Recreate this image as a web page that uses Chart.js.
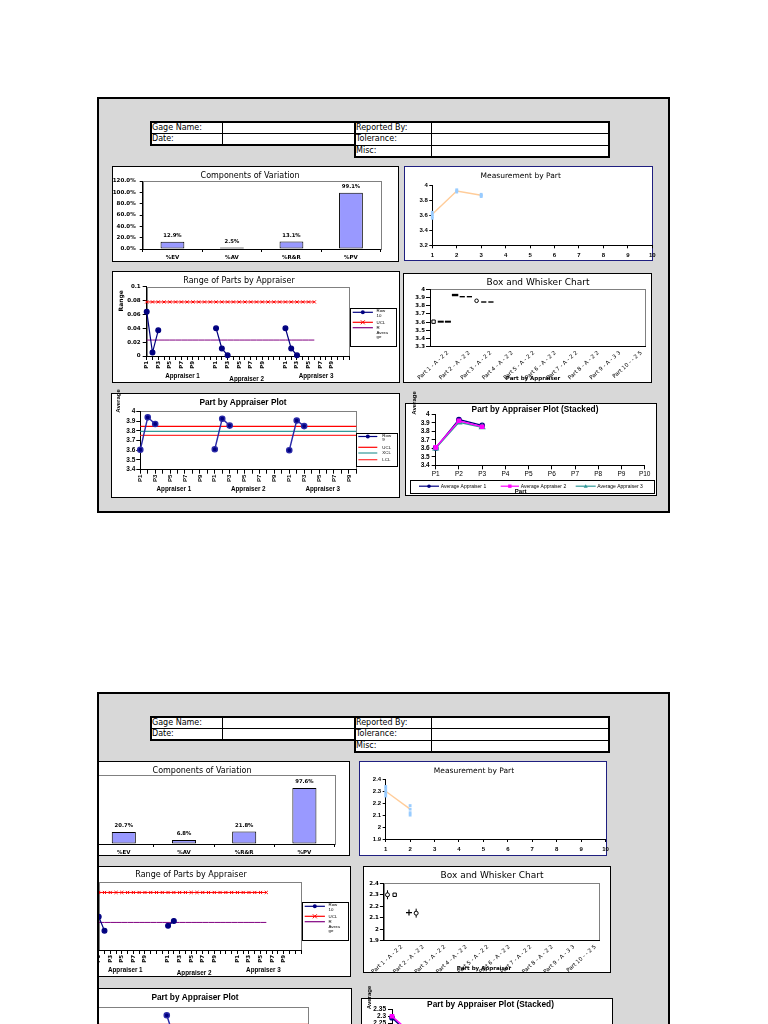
<!DOCTYPE html>
<html>
<head>
<meta charset="utf-8">
<title>Gage R&amp;R report</title>
<script src="https://cdn.jsdelivr.net/npm/chart.js@4.4.1/dist/chart.umd.min.js"></script>
<style>
  html, body { margin: 0; padding: 0; background: #fff; }
  body { width: 768px; height: 1024px; overflow: hidden; position: relative; font-family: "DejaVu Sans", sans-serif; }
  .sheet { position: absolute; background: #d8d8d8; overflow: hidden; }
  .edge { position: absolute; border: 2px solid #000; box-sizing: border-box; z-index: 5; }
  .box { position: absolute; background: #fff; border: 1px solid #000; box-sizing: border-box; }
  .cell { position: absolute; box-sizing: border-box; border: 1px solid #000; background: #fff; font-size: 8px; padding-left: 1px; white-space: nowrap; color: #000; }
  .outer { position: absolute; box-sizing: border-box; border: 2px solid #000; }
  canvas { position: absolute; }
</style>
</head>
<body>
<script>
const covCategories = ['%EV', '%AV', '%R&R', '%PV'];
const covTop = [12.9, 2.5, 13.1, 99.1];
const covBottom = [20.7, 6.8, 21.8, 97.6];

const measTopPart = [1, 1, 1, 1, 2, 2, 2, 3, 3, 3];
const measTopValue = [3.56, 3.585, 3.61, 3.64, 3.91, 3.925, 3.94, 3.85, 3.865, 3.88];
const measTopMean = [3.613, 3.924, 3.867];
const measBottomPart = [1, 1, 1, 1, 1, 2, 2, 2, 2];
const measBottomValue = [2.26, 2.28, 2.30, 2.32, 2.34, 2.10, 2.12, 2.15, 2.18];
const measBottomMean = [2.30, 2.15];

const parts = ['P1', 'P2', 'P3', 'P4', 'P5', 'P6', 'P7', 'P8', 'P9', 'P10'];
const appraisers = ['Appraiser 1', 'Appraiser 2', 'Appraiser 3'];

const rangeTop = [[0.064, 0.005, 0.037], [0.040, 0.011, 0.001], [0.040, 0.011, 0.001]];
const rangeTopLimits = [0.078, 0.023];      // UCL, R average
const rangeBottom = [[0.069, 0.040], [0.050, 0.060], []];
const rangeBottomLimits = [0.119, 0.057];

const avgTop = [[3.605, 3.938, 3.87], [3.61, 3.924, 3.853], [3.60, 3.905, 3.848]];
const avgTopLimits = [3.846, 3.794, 3.753]; // UCL, XCL, LCL
const avgBottom = [[2.29, 2.14], [2.30, 2.16], []];
const avgBottomLimits = [2.245, 2.225, 2.205];

const bwLabels = ['Part 1 - A - 2 2', 'Part 2 - A - 2 2', 'Part 3 - A - 2 2', 'Part 4 - A - 2 2', 'Part 5 - A - 2 2',
  'Part 6 - A - 2 2', 'Part 7 - A - 2 2', 'Part 8 - A - 2 2', 'Part 9 - A - 3 3', 'Part 10 - - 2 5'];
const bwTop = [[3.605, 3.605, 3.605], [3.93, 3.91, 3.91], [3.86, 3.845, 3.845]];
const bwBottom = [[2.30, 2.30], [2.145, 2.14]];

const NAVY = '#000080', RED = '#ff0000', PURPLE = '#800080', TEAL = '#339999', MAGENTA = '#ff00ff', GREY = '#808080';
const ARIAL = '"Liberation Sans", Arial, sans-serif';

Chart.defaults.font.family = '"DejaVu Sans", sans-serif';
Chart.defaults.color = '#000';
const TICK = { size: 5.5, weight: 'bold' };
const TICK_A = { family: ARIAL, size: 6.5, weight: 'bold' };
const fmt = v => String(Math.round(v * 1000) / 1000);
const pct = v => v.toFixed(1) + '%';

function drawMark(ctx, style, x, y, r, color) {
  ctx.save();
  ctx.fillStyle = color; ctx.strokeStyle = color; ctx.lineWidth = 1;
  ctx.beginPath();
  if (style === 'circle') { ctx.arc(x, y, r, 0, Math.PI * 2); ctx.fill(); }
  else if (style === 'rect') { ctx.fillRect(x - r, y - r, r * 2, r * 2); }
  else if (style === 'triangle') { ctx.moveTo(x, y - r); ctx.lineTo(x + r, y + r * 0.8); ctx.lineTo(x - r, y + r * 0.8); ctx.fill(); }
  else if (style === 'crossRot') { ctx.moveTo(x - r, y - r); ctx.lineTo(x + r, y + r); ctx.moveTo(x + r, y - r); ctx.lineTo(x - r, y + r); ctx.stroke(); }
  ctx.restore();
}

// grey frame round the plot area
const framePlugin = {
  id: 'frame',
  beforeDraw(chart, args, o) {
    if (!o.color) return;
    const a = chart.chartArea, ctx = chart.ctx;
    ctx.save();
    ctx.strokeStyle = o.color; ctx.lineWidth = 1;
    ctx.strokeRect(Math.round(a.left) + 0.5, Math.round(a.top) + 0.5, Math.round(a.right - a.left), Math.round(a.bottom - a.top));
    ctx.restore();
  }
};

const valuePlugin = {
  id: 'barValues',
  afterDatasetsDraw(chart, args, o) {
    if (!o.gap) return;
    const ctx = chart.ctx, vals = chart.data.datasets[0].data;
    ctx.save();
    ctx.font = 'bold 5.3px "DejaVu Sans"'; ctx.textAlign = 'center'; ctx.textBaseline = 'middle'; ctx.fillStyle = '#000';
    chart.getDatasetMeta(0).data.forEach((el, i) => ctx.fillText(pct(vals[i]), el.x, el.y - o.gap));
    ctx.restore();
  }
};

// second level of the category axis (Appraiser 1/2/3)
const groupPlugin = {
  id: 'groups',
  afterDraw(chart, args, o) {
    if (!o.labels) return;
    const ctx = chart.ctx, xs = chart.scales.x;
    ctx.save();
    ctx.font = 'bold 6.3px ' + ARIAL; ctx.textAlign = 'center'; ctx.textBaseline = 'middle'; ctx.fillStyle = '#000';
    o.labels.forEach((s, i) => ctx.fillText(s, xs.getPixelForValue(o.at[i]), o.y[i] - o.oy));
    ctx.restore();
  }
};

const legendPlugin = {
  id: 'boxLegend',
  afterDraw(chart, args, o) {
    if (!o.w) return;
    const ctx = chart.ctx, x = o.x - o.ox, y = o.y - o.oy;
    ctx.save();
    ctx.fillStyle = '#fff'; ctx.fillRect(x, y, o.w, o.h);
    ctx.strokeStyle = '#000'; ctx.lineWidth = 1;
    ctx.strokeRect(Math.round(x) + 0.5, Math.round(y) + 0.5, Math.round(o.w), Math.round(o.h));
    ctx.font = (o.size || 4.4) + 'px ' + ARIAL; ctx.textBaseline = 'middle'; ctx.textAlign = 'left';
    for (const it of o.items) {
      ctx.strokeStyle = it.color; ctx.lineWidth = 1.2;
      ctx.beginPath(); ctx.moveTo(x + it.x0, y + it.y); ctx.lineTo(x + it.x1, y + it.y); ctx.stroke();
      if (it.mark) drawMark(ctx, it.mark, x + (it.x0 + it.x1) / 2, y + it.y, it.r, it.color);
      ctx.fillStyle = '#000';
      it.lines.forEach((s, k) => ctx.fillText(s, x + it.tx, y + it.ty[k]));
    }
    ctx.restore();
  }
};

const textPlugin = {
  id: 'texts',
  afterDraw(chart, args, o) {
    if (!o.items) return;
    const ctx = chart.ctx;
    for (const t of o.items) {
      ctx.save();
      ctx.font = (t.bold ? 'bold ' : '') + t.size + 'px ' + (t.arial ? ARIAL : '"DejaVu Sans"');
      ctx.fillStyle = '#000'; ctx.textAlign = 'center'; ctx.textBaseline = 'middle';
      ctx.translate(t.x - o.ox, t.y - o.oy);
      if (t.rot) ctx.rotate(t.rot * Math.PI / 180);
      ctx.fillText(t.text, 0, 0);
      ctx.restore();
    }
  }
};

Chart.register(framePlugin, valuePlugin, groupPlugin, legendPlugin, textPlugin);

function makeSheet(x, y, w, h) {
  const el = document.createElement('div');
  el.className = 'sheet';
  Object.assign(el.style, { left: x + 'px', top: y + 'px', width: w + 'px', height: h + 'px' });
  document.body.appendChild(el);
  const edge = document.createElement('div');
  edge.className = 'edge';
  Object.assign(edge.style, { left: x + 'px', top: y + 'px', width: w + 'px', height: h + 'px' });
  document.body.appendChild(edge);
  return { el, x, y };
}

function place(sheet, cls, x, y, w, h) {
  const d = document.createElement('div');
  d.className = cls;
  Object.assign(d.style, { left: (x - sheet.x) + 'px', top: (y - sheet.y) + 'px', width: w + 'px', height: h + 'px' });
  sheet.el.appendChild(d);
  return d;
}

function headerTable(sheet, dy) {
  const r = [121.7, 132.7, 145, 157.3].map(v => v + dy);
  const cell = (x0, y0, x1, y1, text) => {
    const d = place(sheet, 'cell', x0, y0, x1 - x0 + 1, y1 - y0 + 1);
    d.style.lineHeight = (y1 - y0 - 2) + 'px';
    d.textContent = text;
  };
  cell(150, r[0], 222, r[1], 'Gage Name:'); cell(222, r[0], 355, r[1], '');
  cell(150, r[1], 222, r[2], 'Date:'); cell(222, r[1], 355, r[2], '');
  cell(354, r[0], 430.5, r[1], 'Reported By:'); cell(430.5, r[0], 608.5, r[1], '');
  cell(354, r[1], 430.5, r[2], 'Tolerance:'); cell(430.5, r[1], 608.5, r[2], '');
  cell(354, r[2], 430.5, r[3], 'Misc:'); cell(430.5, r[2], 608.5, r[3], '');
  place(sheet, 'outer', 149.5, r[0] - 0.5, 206, r[2] - r[0] + 1.5);
  place(sheet, 'outer', 353.5, r[0] - 0.5, 256, r[3] - r[0] + 1.5);
}

function box(sheet, b, color) {
  const d = place(sheet, 'box', b.x, b.y, b.w, b.h);
  if (color) d.style.borderColor = color;
}

function makeChart(sheet, c, p, type, data, scales, plugins) {
  const cx = Math.round(c.x), cy = Math.round(c.y), cw = Math.round(c.w), ch = Math.round(c.h);
  const cv = document.createElement('canvas');
  cv.width = cw; cv.height = ch;
  Object.assign(cv.style, { left: (cx - sheet.x) + 'px', top: (cy - sheet.y) + 'px', width: cw + 'px', height: ch + 'px' });
  sheet.el.appendChild(cv);
  const yW = p.l - cx, xH = cy + ch - p.b;
  scales.x.afterFit = s => { s.height = xH; s.paddingLeft = 0; s.paddingRight = 0; };
  scales.y.afterFit = s => { s.width = yW; s.paddingTop = 0; s.paddingBottom = 0; };
  for (const k of ['texts', 'groups', 'boxLegend']) if (plugins[k]) { plugins[k].ox = cx; plugins[k].oy = cy; }
  plugins.legend = { display: false };
  plugins.tooltip = { enabled: false };
  return new Chart(cv, {
    type, data,
    options: {
      responsive: false, animation: false, events: [],
      layout: { padding: { left: 0, top: p.t - cy, right: cx + cw - p.r, bottom: 0 } },
      scales, plugins
    }
  });
}

function yAxis(min, max, step, cb, tl, pad, font) {
  return {
    type: 'linear', min, max,
    ticks: { stepSize: step, callback: cb, font: font || TICK, padding: pad, autoSkip: false },
    grid: { drawOnChartArea: false, tickLength: tl, color: '#000' },
    border: { color: '#000' }
  };
}

// range chart: 12 rows per appraiser (P1..P10 and two empty rows); average chart: 10 rows per appraiser
const rangeCats = appraisers.flatMap(() => parts.concat(['', '']));
const avgCats = appraisers.flatMap(() => parts);
function groupXAxis(cats, per, font) {
  return {
    type: 'category', offset: false,
    ticks: { autoSkip: false, minRotation: 90, maxRotation: 90, font, padding: 1,
      callback: (v, i) => (i % per < 10 && i % 2 === 0) ? cats[i] : '' },
    grid: { drawOnChartArea: false, tickLength: 4, color: '#000' },
    border: { color: '#000' }
  };
}
function perAppraiser(rows, cats, per) {
  const out = cats.map(() => null);
  rows.forEach((vals, g) => vals.forEach((v, i) => { out[g * per + i] = v; }));
  return out;
}
function flatLine(v, n, cats) { return cats.map((_, i) => i < n ? v : null); }

function componentsChart(sheet, g, values) {
  box(sheet, g.box);
  makeChart(sheet, g.box, g.plot, 'bar',
    { labels: covCategories, datasets: [{ data: values, backgroundColor: '#9999ff', borderColor: '#000', borderWidth: 1, borderSkipped: false, barPercentage: 0.4, categoryPercentage: 1 }] },
    {
      x: { type: 'category', ticks: { font: TICK, padding: 2 }, grid: { drawOnChartArea: false, tickLength: 3, color: '#000' }, border: { color: '#000' } },
      y: yAxis(0, 120, 20, pct, 3, 4)
    },
    { frame: { color: GREY }, barValues: { gap: 6 }, texts: { items: [{ text: 'Components of Variation', x: g.title[0], y: g.title[1], size: 8 }] } });
}

function measureChart(sheet, g, xs, ys, means, yMin, yMax, step) {
  box(sheet, g.box, '#1f1f80');
  const font = { family: ARIAL, size: 6, weight: 'bold' };
  makeChart(sheet, g.canvas, g.plot, 'scatter',
    { datasets: [
      { data: xs.map((x, i) => ({ x, y: ys[i] })), pointStyle: 'rect', pointRadius: 2, backgroundColor: '#99ccff', borderColor: '#99ccff', borderWidth: 0, clip: false },
      { data: means.map((y, i) => ({ x: i + 1, y })), showLine: true, borderColor: '#ffcc99', borderWidth: 1.4, pointRadius: 0, clip: false }
    ] },
    {
      x: { type: 'linear', min: 1, max: 10, ticks: { stepSize: 1, font, padding: 3.5, callback: fmt }, grid: { drawOnChartArea: false, tickLength: 3, color: '#000' }, border: { color: '#000' } },
      y: yAxis(yMin, yMax, step, fmt, 3, 1.5, font)
    },
    { texts: { items: [{ text: 'Measurement by Part', x: g.title[0], y: g.title[1], size: 7.5 }] } });
}

function rangeLegend(x, y) {
  return { x, y, w: 46, h: 38.3, items: [
    { x0: 2.7, x1: 22.9, y: 4.6, color: NAVY, mark: 'circle', r: 2, tx: 26.5, lines: ['Row', '10'], ty: [3.3, 8] },
    { x0: 2.7, x1: 22.9, y: 14.6, color: RED, mark: 'crossRot', r: 2, tx: 26.5, lines: ['UCL'], ty: [14.6] },
    { x0: 2.7, x1: 22.9, y: 20, color: PURPLE, tx: 26.5, lines: ['R', 'Avera', 'ge'], ty: [20, 24.6, 29.3] }
  ] };
}

function rangeChart(sheet, g, rows, limits, yMax) {
  box(sheet, g.box);
  makeChart(sheet, g.box, g.plot, 'line',
    { labels: rangeCats, datasets: [
      { data: perAppraiser(rows, rangeCats, 12), borderColor: NAVY, backgroundColor: NAVY, borderWidth: 1.2, pointStyle: 'circle', pointRadius: 2.4, clip: false },
      { data: flatLine(limits[0], 30, rangeCats), borderColor: RED, backgroundColor: RED, borderWidth: 1, pointStyle: 'crossRot', pointRadius: 2.2, pointBorderWidth: 1, clip: false },
      { data: flatLine(limits[1], 30, rangeCats), borderColor: PURPLE, borderWidth: 1, pointRadius: 0 }
    ] },
    { x: groupXAxis(rangeCats, 12, TICK), y: yAxis(0, yMax, 0.02, fmt, 4, 2) },
    {
      frame: { color: GREY },
      groups: { labels: appraisers, at: g.groupAt, y: g.groupY },
      boxLegend: rangeLegend(g.legend[0], g.legend[1]),
      texts: { items: [
        { text: 'Range of Parts by Appraiser', x: g.title[0], y: g.title[1], size: 8 },
        { text: 'Range', x: g.yTitle[0], y: g.yTitle[1], size: 6, bold: true, rot: -90 }
      ] }
    });
}

function bwChart(sheet, g, values, yMin, yMax, look) {
  box(sheet, g.box);
  const slots = bwLabels.flatMap(l => ['', '', l]);
  const series = src => {
    const out = slots.map(() => null);
    src.forEach((vals, p) => vals.forEach((v, a) => { out[p * 3 + a] = v; }));
    return out;
  };
  const datasets = [{ data: series(values), showLine: false, pointStyle: look.style, pointRadius: look.r, pointBorderWidth: look.w,
    pointBackgroundColor: look.fill, pointBorderColor: '#000', clip: false }];
  if (look.whisker) {
    const w = slots.map(() => null);
    look.whisker.forEach(([p, a]) => { w[p * 3 + a] = values[p][a]; });
    datasets.push({ data: w, showLine: false, pointStyle: 'line', pointRotation: 90, pointRadius: 4.5, pointBorderWidth: 1, pointBorderColor: '#000', clip: false });
  }
  makeChart(sheet, g.box, g.plot, 'line', { labels: slots, datasets },
    {
      x: { type: 'category', offset: true,
        ticks: { autoSkip: false, minRotation: 42, maxRotation: 42, font: { size: 5.5 }, padding: 3 },
        grid: { drawOnChartArea: false, drawTicks: false, offset: true, color: '#000' }, border: { color: '#000' } },
      y: yAxis(yMin, yMax, 0.1, fmt, 4, 1)
    },
    { frame: { color: GREY }, texts: { items: [
      { text: 'Box and Whisker Chart', x: g.title[0], y: g.title[1], size: 9 },
      { text: 'Part by Appraiser', x: g.axisTitle[0], y: g.axisTitle[1], size: 5.5, bold: true }
    ] } });
}

function avgLegend(x, y) {
  return { x, y, w: 41, h: 33.3, items: [
    { x0: 2, x1: 21, y: 3.5, color: NAVY, mark: 'circle', r: 2, tx: 26, lines: ['Row', '9'], ty: [2.4, 6.6] },
    { x0: 2, x1: 21, y: 14.3, color: RED, tx: 26, lines: ['UCL'], ty: [14.3] },
    { x0: 2, x1: 21, y: 20, color: TEAL, tx: 26, lines: ['XCL'], ty: [20] },
    { x0: 2, x1: 21, y: 26.7, color: '#ff3333', tx: 26, lines: ['LCL'], ty: [26.7] }
  ] };
}

function avgChart(sheet, g, rows, limits, yMin, yMax, step) {
  box(sheet, g.box);
  makeChart(sheet, g.canvas, g.plot, 'line',
    { labels: avgCats, datasets: [
      { data: perAppraiser(rows, avgCats, 10), borderColor: '#2a2aa8', backgroundColor: NAVY, borderWidth: 1.4, pointStyle: 'circle', pointRadius: 2.6, clip: false },
      { data: flatLine(limits[0], 30, avgCats), borderColor: RED, borderWidth: 1.2, pointRadius: 0 },
      { data: flatLine(limits[1], 30, avgCats), borderColor: TEAL, borderWidth: 1.2, pointRadius: 0 },
      { data: flatLine(limits[2], 30, avgCats), borderColor: '#ff3333', borderWidth: 1.2, pointRadius: 0 }
    ] },
    { x: groupXAxis(avgCats, 10, { family: ARIAL, size: 6, weight: 'bold' }), y: yAxis(yMin, yMax, step, fmt, 4, 1, TICK_A) },
    {
      frame: { color: GREY },
      groups: { labels: appraisers, at: [4.5, 14.5, 24.5], y: g.groupY },
      boxLegend: avgLegend(g.legend[0], g.legend[1]),
      texts: { items: [
        { text: 'Part by Appraiser Plot', x: g.title[0], y: g.title[1], size: 8.3, bold: true, arial: true },
        { text: 'Average', x: g.yTitle[0], y: g.yTitle[1], size: 6, bold: true, arial: true, rot: -90 }
      ] }
    });
}

function stackedLegend(x, y) {
  return { x, y, w: 244, h: 12.7, size: 5, items: [
    { x0: 9, x1: 29, y: 6.2, color: NAVY, mark: 'circle', r: 1.8, tx: 30.7, lines: ['Average Appraiser 1'], ty: [6.2] },
    { x0: 90.7, x1: 109, y: 6.2, color: MAGENTA, mark: 'rect', r: 1.7, tx: 110.7, lines: ['Average Appraiser 2'], ty: [6.2] },
    { x0: 165.7, x1: 185.7, y: 6.2, color: TEAL, mark: 'triangle', r: 2, tx: 187.3, lines: ['Average Appraiser 3'], ty: [6.2] }
  ] };
}

function stackedChart(sheet, g, rows, yMin, yMax, step) {
  box(sheet, g.box);
  const looks = [[NAVY, 'circle', 2.2], [MAGENTA, 'rect', 2.3], [TEAL, 'triangle', 2.8]];
  const order = [2, 0, 1];
  makeChart(sheet, g.canvas, g.plot, 'line',
    { labels: parts, datasets: rows.map((vals, i) => ({
      data: vals, borderColor: looks[i][0], backgroundColor: looks[i][0], borderWidth: 1.4,
      pointStyle: looks[i][1], pointRadius: looks[i][2], order: order[i], clip: false })) },
    {
      x: { type: 'category', offset: false, ticks: { autoSkip: false, maxRotation: 0, font: { family: ARIAL, size: 6.5 }, padding: 1.5 },
        grid: { drawOnChartArea: false, tickLength: 4, color: '#000' }, border: { color: '#000' } },
      y: yAxis(yMin, yMax, step, fmt, 4, 2, { family: ARIAL, size: 6.5, weight: 'bold' })
    },
    {
      boxLegend: stackedLegend(g.legend[0], g.legend[1]),
      texts: { items: [
        { text: 'Part by Appraiser Plot (Stacked)', x: g.title[0], y: g.title[1], size: 8.3, bold: true, arial: true },
        { text: 'Average', x: g.yTitle[0], y: g.yTitle[1], size: 6, bold: true, arial: true, rot: -90 },
        { text: 'Part', x: g.xTitle[0], y: g.xTitle[1], size: 6, bold: true, arial: true }
      ] }
    });
}

// ---------------- top sheet ----------------
const top1 = makeSheet(97, 97, 573, 416);
headerTable(top1, 0);
componentsChart(top1, { box: { x: 112, y: 166, w: 287, h: 96 }, plot: { l: 142.7, t: 181, r: 380.7, b: 249 }, title: [250, 176] }, covTop);
measureChart(top1, { box: { x: 404, y: 166, w: 249, h: 95 }, canvas: { x: 404, y: 166, w: 258, h: 95 },
  plot: { l: 432.3, t: 185.3, r: 652.3, b: 245.3 }, title: [520.7, 176] }, measTopPart, measTopValue, measTopMean, 3.2, 4, 0.2);
rangeChart(top1, { box: { x: 111.5, y: 271, w: 288, h: 112 }, plot: { l: 146.7, t: 286.7, r: 349, b: 356 }, title: [239, 281],
  yTitle: [121.3, 300.8], groupAt: [6.2, 17.3, 29.3], groupY: [376.7, 379, 376.7], legend: [350, 307.7] }, rangeTop, rangeTopLimits, 0.1);
bwChart(top1, { box: { x: 402.7, y: 273.3, w: 249, h: 110 }, plot: { l: 430, t: 289.3, r: 645, b: 346.7 }, title: [538, 282.7], axisTitle: [533, 378.3] },
  bwTop, 3.3, 4, {
    style: ['rect', 'line', 'line', 'line', 'line', 'line', 'circle', 'line', 'line'],
    r: [2.4, 3, 3, 3.2, 2.6, 2.6, 1.8, 2.6, 2.6],
    w: [1, 2, 2, 2.4, 1.4, 1.4, 1, 1.4, 1.4],
    fill: ['#fff', '#000', '#000', '#000', '#000', '#000', '#fff', '#000', '#000']
  });
avgChart(top1, { box: { x: 111.3, y: 393, w: 288.5, h: 105 }, canvas: { x: 111.3, y: 386, w: 288.5, h: 112 },
  plot: { l: 140.3, t: 411.3, r: 356.3, b: 469.7 }, title: [243, 403], yTitle: [118, 401],
  groupY: [489.7, 489.7, 489.7], legend: [356.3, 433] }, avgTop, avgTopLimits, 3.4, 4, 0.1);
stackedChart(top1, { box: { x: 405, y: 403.3, w: 252, h: 93 }, canvas: { x: 405, y: 386, w: 252, h: 110.3 },
  plot: { l: 435.7, t: 414.3, r: 644.7, b: 465.3 }, title: [535, 410], yTitle: [414.5, 403], xTitle: [520.7, 491.7],
  legend: [410, 480] }, avgTop, 3.4, 4, 0.1);

// ---------------- bottom sheet (cut off by the page) ----------------
const bot = makeSheet(97, 692, 573, 400);
headerTable(bot, 595);
componentsChart(bot, { box: { x: 63, y: 761, w: 287, h: 95 }, plot: { l: 93.7, t: 775, r: 334.5, b: 844 }, title: [202, 771] }, covBottom);
measureChart(bot, { box: { x: 359, y: 761, w: 248, h: 95 }, canvas: { x: 359, y: 761, w: 256, h: 95 },
  plot: { l: 385.7, t: 779.3, r: 605.5, b: 839 }, title: [474, 771] }, measBottomPart, measBottomValue, measBottomMean, 1.9, 2.4, 0.1);
rangeChart(bot, { box: { x: 63.5, y: 866, w: 287.5, h: 111 }, plot: { l: 98.7, t: 882.3, r: 301, b: 950 }, title: [191, 875],
  yTitle: [73.3, 894.8], groupAt: [4.6, 16.5, 28.5], groupY: [970.7, 973, 970.7], legend: [302, 901.7] }, rangeBottom, rangeBottomLimits, 0.14);
bwChart(bot, { box: { x: 362.6, y: 866, w: 248, h: 107.3 }, plot: { l: 383.9, t: 883.3, r: 599, b: 940.7 }, title: [492, 875.7], axisTitle: [484, 968.3] },
  bwBottom, 1.9, 2.4, {
    style: ['circle', 'rect', 'circle', 'cross', 'circle'],
    r: [2, 2.4, 0, 3, 2],
    w: [1, 1, 1, 1.2, 1],
    fill: ['#fff', '#fff', '#fff', '#000', '#fff'],
    whisker: [[0, 0], [1, 1]]
  });
avgChart(bot, { box: { x: 63.3, y: 988, w: 288.5, h: 105 }, canvas: { x: 63.3, y: 980, w: 288.5, h: 112 },
  plot: { l: 92.3, t: 1007, r: 308.3, b: 1065 }, title: [195, 998], yTitle: [70, 995],
  groupY: [1084, 1084, 1084], legend: [308.3, 1027] }, avgBottom, avgBottomLimits, 2.0, 2.35, 0.05);
stackedChart(bot, { box: { x: 360.5, y: 998, w: 252, h: 93 }, canvas: { x: 360.5, y: 981, w: 252, h: 110.3 },
  plot: { l: 392, t: 1009, r: 600.2, b: 1059.7 }, title: [490.5, 1004.7], yTitle: [369.5, 997.5], xTitle: [476, 1086],
  legend: [365.5, 1074.7] }, avgBottom, 2.0, 2.35, 0.05);
</script>
</body>
</html>
